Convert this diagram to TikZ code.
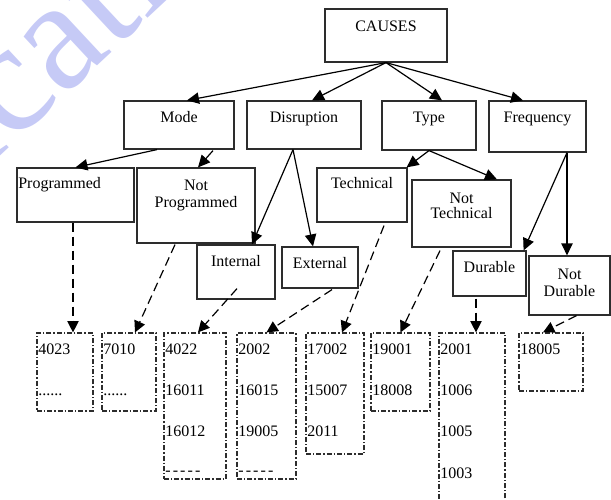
\documentclass[tikz,border=0pt]{standalone}
\usepackage{fontspec}
\setmainfont{Liberation Serif}
\usetikzlibrary{arrows.meta,calc}
\definecolor{wmcol}{RGB}{198,202,246}
\definecolor{boxcol}{RGB}{45,45,45}
\newcommand\mkbox[8]{%
  \node[box,#8,text width={(#4-#2)*0.75pt-2pt},text height={(#6-#3)*0.75pt},text depth={(#5-#6)*0.75pt}]
    (#1) at ({(#2+#4)/2},{(#3+#5)/2}) {#7};}
\newcommand\dashline{-\kern1.6pt-\kern1.6pt-\kern1.6pt-\kern1.6pt-}
\tikzset{
  box/.style={draw=boxcol,line width=0.9pt,inner xsep=1pt,inner ysep=0pt,
    font=\fontsize{12}{12.6}\selectfont},
  numbox/.style={align=left,dash pattern=on 3.75pt off 1.5pt on 1pt off 1.5pt,
    font=\fontsize{12}{31}\selectfont},
  arr/.style={line width=0.9pt,-{Triangle[length=9pt,width=8.5pt]}},
  darr/.style={line width=0.9pt,dash pattern=on 6.75pt off 3.75pt,-{Triangle[length=8.5pt,width=8.5pt]}},
  wm/.style={text=wmcol,inner sep=0pt,font=\fontsize{118}{118}\selectfont}
}
\begin{document}
\begin{tikzpicture}[x=0.75pt,y=-0.75pt]
\useasboundingbox (0,0) rectangle (611,500);
\begin{scope}
\clip (0,0) rectangle (611,500);
\node[wm,rotate=43,anchor=base west] (wmark) at (11,146) {\llap{Publi}cation};
\end{scope}
% boxes
\mkbox{causes}{325}{9}{447}{62}{31}{CAUSES}{align=center}
\mkbox{mode}{124}{101}{234}{149}{122}{Mode}{align=center}
\mkbox{disr}{247}{101}{361}{149}{122}{Disruption}{align=center}
\mkbox{type}{382}{101}{476}{150}{122}{Type}{align=center}
\mkbox{freq}{489}{101}{586}{152}{122}{Frequency}{align=center}
\mkbox{prog}{17}{168}{134}{222}{188}{Programmed}{align=left}
\mkbox{notprog}{137}{168}{255}{243}{190}{Not\\Programmed}{align=center,font=\fontsize{12}{12.9}\selectfont}
\mkbox{tech}{317}{168}{407}{222}{188}{Technical}{align=center}
\mkbox{nottech}{412}{180}{511}{247}{203}{Not\\Technical}{align=center,font=\fontsize{12}{11.9}\selectfont}
\mkbox{int}{197}{245}{275}{299}{266}{Internal}{align=center}
\mkbox{ext}{282}{247}{358}{288}{268}{External}{align=center}
\mkbox{dur}{453}{251}{526}{296}{272}{Durable}{align=center}
\mkbox{notdur}{529}{256}{610}{315}{279}{Not\\Durable}{align=center,font=\fontsize{12}{13.4}\selectfont}
% number boxes
\mkbox{b1}{37}{333}{93}{411}{354}{4023\\......}{numbox}
\mkbox{b2}{102}{333}{156}{411}{354}{7010\\......}{numbox}
\mkbox{b3}{164}{333}{226}{479}{354}{4022\\16011\\16012\\[-2pt]\dashline}{numbox}
\mkbox{b4}{237}{333}{296}{479}{354}{2002\\16015\\19005\\[-2pt]\dashline}{numbox}
\mkbox{b5}{306}{333}{364}{454}{354}{17002\\15007\\2011}{numbox}
\mkbox{b6}{371}{333}{430}{411}{354}{19001\\18008}{numbox}
\mkbox{b7}{439}{333}{505}{515}{354}{2001\\1006\\1005\\1003}{numbox}
\mkbox{b8}{519}{333}{583}{391}{354}{18005}{numbox}
% solid arrows
\draw[arr] (causes.south) -- ($(mode.north)+(8,0)$);
\draw[arr] (causes.south) -- ($(disr.north)+(8,0)$);
\draw[arr] (causes.south) -- ($(type.north)+(13,0)$);
\draw[arr] (causes.south) -- ($(freq.north)+(-14.5,0)$);
\draw[arr] ($(mode.south)+(-22,0)$) -- (prog.north);
\draw[arr] ($(mode.south)+(34,1)$) -- ($(notprog.north)+(2,0)$);
\draw[arr] ($(disr.south)+(-11,0)$) -- ($(int.north)+(16,0)$);
\draw[arr] ($(disr.south)+(-11,0)$) -- ($(ext.north)+(-7,0)$);
\draw[arr] (type.south) -- ($(tech.north east)+(-1,0)$);
\draw[arr] (type.south) -- ($(nottech.north)+(35.5,0)$);
\draw[arr] ($(freq.south)+(29.5,0)$) -- ($(dur.north east)+(-3,0)$);
\draw[arr] ($(freq.south)+(29.5,0)$) -- ($(notdur.north)+(-2.5,0)$);
% dashed arrows
\draw[darr] ($(prog.south)+(-2.5,0)$) -- ($(b1.north)+(8,0)$);
\draw[darr] ($(notprog.south)+(-21,1)$) -- ($(b2.north)+(6,0)$);
\draw[darr] ($(int.south)+(1,-11)$) -- ($(b3.north)+(3,0)$);
\draw[darr] ($(ext.south)+(12,1)$) -- (b4.north);
\draw[darr] ($(tech.south)+(22,3)$) -- ($(b5.north)+(7,0)$);
\draw[darr] ($(nottech.south)+(-21.5,3)$) -- (b6.north);
\draw[darr] ($(dur.south)+(-13.5,2)$) -- ($(b7.north)+(4,0)$);
\draw[darr] ($(notdur.south)+(7,0)$) -- ($(b8.north)+(-8,0)$);
\end{tikzpicture}
\end{document}
